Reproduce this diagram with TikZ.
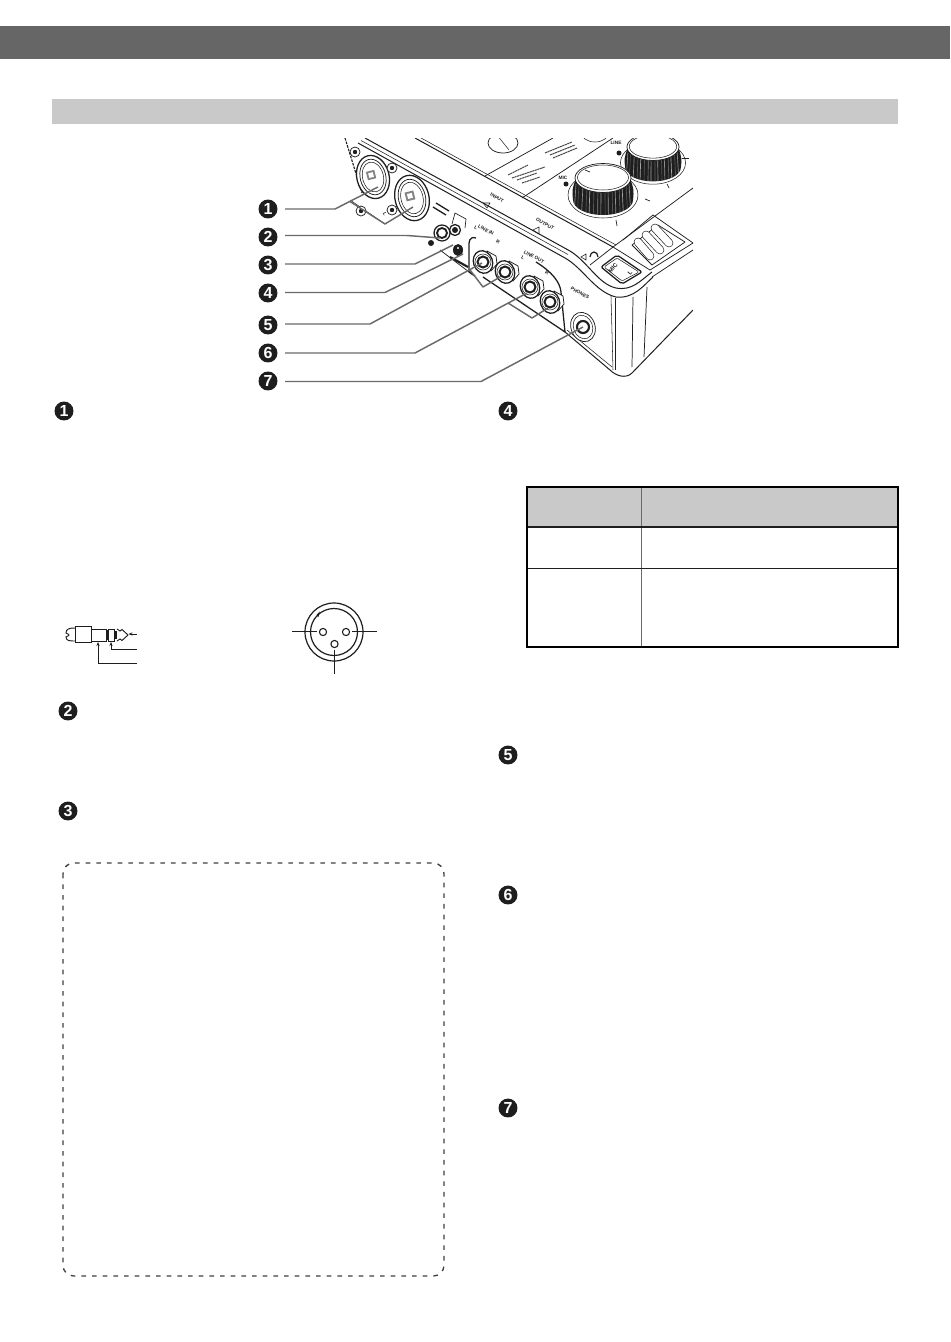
\documentclass[tikz,border=0pt]{standalone}
\usepackage{fontspec}
\setmainfont{Liberation Sans}
\usetikzlibrary{arrows.meta}
\definecolor{barDark}{HTML}{666666}
\definecolor{barLight}{HTML}{C9C9C9}
\definecolor{leaderGray}{HTML}{6A6A6A}
\definecolor{ink}{HTML}{1E1E1E}
\tikzset{
  x=0.75pt,y=-0.75pt,
  badge/.style={circle,fill=ink,text=white,inner sep=0pt,minimum size=14.2pt,font=\fontsize{12}{12}\selectfont\bfseries},
  leader/.style={draw=leaderGray,line width=1.1pt,line join=round},
  branch/.style={draw=leaderGray,line width=1.1pt,line join=round},
  devline/.style={draw=ink,line width=0.55pt,line join=round},
  heavy/.style={draw=ink,line width=0.95pt,line join=round},
  thin/.style={draw=ink,line width=0.4pt},
  plate/.style={draw=ink,line width=0.75pt},
  tinylabel/.style={inner sep=0pt,text=ink,font=\fontsize{3.6}{4}\selectfont\bfseries,rotate=-29},
  tableframe/.style={draw=black,line width=1.6pt},
  tablerule/.style={draw=ink,line width=0.7pt},
}
\newcommand{\rkknob}[3]{% cx, cy, scale
  \begin{scope}[shift={(#1,#2)},scale=#3]
    \draw[thin] (0,17) ellipse [x radius=35,y radius=23];
    \begin{scope}
      \clip (-27,0) .. controls (-31,12) .. (-30,22) arc[start angle=180,end angle=0,x radius=30,y radius=15] .. controls (31,12) .. (27,0) -- cycle;
      \fill[ink] (-34,-3) rectangle (34,40);
      \foreach \a/\o in {-27/.5,-24/.2,-20/.5,-16/.25,-13/.6,-9/.25,-5/.45,-2/.6,2/.3,5/.55,9/.25,12/.5,16/.3,19/.6,23/.25,26/.5}
        \draw[white,opacity=\o,line width=0.5pt] (\a,6) -- (\a*1.08,40);
    \end{scope}
    \draw[devline,fill=white] (0,0) ellipse [x radius=28,y radius=14.5];
    \draw[thin] (0,-0.5) ellipse [x radius=25.5,y radius=12.5];
  \end{scope}
}
\newcommand{\rkxlr}[3]{% cx, cy, scale
  \begin{scope}[shift={(#1,#2)},scale=#3,rotate=14]
    \draw[heavy,fill=white] (0,0) ellipse [x radius=17,y radius=23];
    \draw[devline] (0,0) ellipse [x radius=13.5,y radius=19];
    \draw[thin] (0,0) ellipse [x radius=11,y radius=16];
    \fill[ink!55] (-6,-7) rectangle (3,2);
    \fill[white] (-4,-5) rectangle (1,0);
  \end{scope}
}
\newcommand{\rkrca}[2]{% cx, cy
  \begin{scope}[shift={(#1,#2)}]
    \draw[devline,fill=white] (4,-11) -- (13,-6) -- (14,2) -- (8,9) -- cycle;
    \draw[heavy,fill=white,rotate=20] (0,0) ellipse [x radius=9.5,y radius=11.5];
    \draw[line width=1.5pt,draw=ink] (0,0) circle [radius=5.5];
    \fill[white] (0,0) circle [radius=3];
    \draw[thin] (0,0) circle [radius=8];
  \end{scope}
}
\begin{document}
\begin{tikzpicture}
\useasboundingbox (0,0) rectangle (950,1342);
\fill[white] (0,0) rectangle (950,1342);
% header bars
\fill[barDark] (0,26) rectangle (950,59);
\fill[barLight] (52,99) rectangle (898,124);

% ---------- device drawing ----------
\begin{scope}
\clip (340,138) rectangle (693,385);
% left side edge
\draw[ink,line width=0.8pt,dash pattern=on 2pt off 0.8pt] (345,138) -- (362,193);
% top panel lines
\draw[plate] (415,138) -- (613,247);
\draw[thin] (421,138) -- (616,245);
\draw[plate] (365,138) -- (570,251) .. controls (588,262) and (598,284) .. (616,288) .. controls (632,291) and (640,281) .. (652,272);
\draw[plate] (358,143) -- (565,258) .. controls (583,268) and (595,292) .. (616,297) .. controls (634,299) and (644,285) .. (653,277);
\draw[thin] (361,140.5) -- (568,254.5);
% panel dividers
\draw[devline] (485,176) -- (553,138);
\draw[devline] (522,198) -- (613,138);
\draw[devline] (590,265) -- (613,247) -- (693,188);
\draw[devline] (613,247) -- (650,270);
\draw[devline] (650,270) -- (693,243);
\draw[devline] (652,277) -- (693,250);
% selector oval
\draw[devline] (503,143) ellipse [x radius=15,y radius=10];
\draw[thin] (497,135) -- (509,150);
\draw[thin] (595,132) ellipse [x radius=14,y radius=10];
% printed lists (illegible marks)
\foreach \a/\b/\c/\d in {508/175/528/165, 512/178/545/167, 517/180/537/173, 522/183/540/177, 545/153/572/142, 550/155/575/145, 553/158/577/148}
  \draw[ink!80,line width=0.8pt,dash pattern=on 1.6pt off 0.4pt] (\a,\b) -- (\c,\d);
% knobs
\rkknob{653}{147}{0.93}
\rkknob{603}{178}{1}
% knob ticks and labels
\foreach \a/\b/\c/\d in {590/172/585/170,645/199/650/201,616/220/617/226,682/158/689/158,667/184/669/188}
  \draw[ink,line width=0.5pt] (\a,\b) -- (\c,\d);
\node[tinylabel,rotate=29] (micLabel) at (563,178) {MIC};
\node[tinylabel,rotate=29] (lineLabel) at (616,143) {LINE};
\fill[ink] (566,184) circle [radius=2.5];
\fill[ink] (619,153) circle [radius=2.5];
% grille
\draw[devline] (623,240) -- (653,215) -- (693,243);
\draw[devline] (632,245) -- (658,225) -- (685,242) -- (652,265) -- cycle;
\foreach \a/\b/\c/\d in {638/242/650/256,646/235/660/250,655/228/669/243}{
  \draw[ink,line width=6.4pt,line cap=round] (\a,\b) -- (\c,\d);
  \draw[white,line width=5.4pt,line cap=round] (\a,\b) -- (\c,\d);
}
% MIC L badge
\draw[heavy,rounded corners=1.5pt] (601,267) -- (617,255) -- (642,272) -- (622,284) -- cycle;
\draw[thin,rounded corners=1pt] (604,267) -- (617,258) -- (639,272) -- (622,281) -- cycle;
\node[inner sep=0pt,rotate=50,font=\fontsize{4.4}{5}\selectfont\bfseries,text=ink] (micBadge) at (613,268) {MIC};
\node[inner sep=0pt,rotate=50,font=\fontsize{4.4}{5}\selectfont\bfseries,text=ink] (lBadge) at (630,273) {L};
% front corner and bottom
\draw[devline] (615,298) -- (615,370);
\draw[devline] (633,297) -- (632,367);
\draw[devline] (647,287) -- (644,357);
\draw[thin] (611,296) -- (613,370);
\draw[plate] (565,332) -- (610,370) .. controls (616,376) and (626,379) .. (632,373) -- (693,310);
\draw[thin] (567,330) -- (612,367);
% recess of the jack panels
\draw[heavy] (476,238) .. controls (469,236) and (469,242) .. (469,246) -- (469,272) -- (475,276);
\draw[heavy] (483,277) -- (565,332);
\draw[heavy] (536,262) .. controls (552,272) and (560,282) .. (561,292) -- (565,332);
\draw[devline] (440,250) -- (473,275);
\draw[thin] (350,200) -- (385,224);
% xlr
\rkxlr{373}{177}{0.95}
\rkxlr{412}{198}{1}
\foreach \a/\b in {355/152,392/168,392/210,361/211}{
  \draw[devline,fill=white] (\a,\b) circle [radius=5];
  \fill[ink] (\a,\b) circle [radius=2.2];
}
\node[tinylabel,rotate=-35] (xlrMark) at (385,214) {L};
% tiny panel labels
\node[tinylabel] (inputLabel) at (497,198) {INPUT};
\draw[thin] (483,203) -- (490,203) -- (487,208) -- cycle;
\node[tinylabel] (outputLabel) at (545,224) {OUTPUT};
\draw[thin] (533,230) -- (539,227) -- (539,234) -- cycle;
\node[tinylabel] (lineInLabel) at (486,230) {LINE IN};
\node[tinylabel] (lineInL) at (476,228) {L};
\node[tinylabel] (lineInR) at (498,242) {R};
\node[tinylabel] (lineOutLabel) at (534,257) {LINE OUT};
\node[tinylabel] (lineOutL) at (523,258) {L};
\node[tinylabel] (lineOutR) at (547,273) {R};
\node[tinylabel] (phonesLabel) at (580,293) {PHONES};
\draw[ink,line width=0.9pt] (590,257) arc[start angle=180,end angle=360,x radius=4,y radius=5];
\draw[thin] (581,257) -- (586,254) -- (586,260) -- cycle;
\foreach \a/\b/\c/\d in {433/207/446/215, 436/203/449/211}
  \draw[ink,line width=1pt] (\a,\b) -- (\c,\d);
\draw[ink,line width=0.5pt] (452,224) -- (455,213) -- (466,219) -- (465,228);
\foreach \a/\b/\c/\d in {450/257/468/267}
  \draw[ink,line width=1.6pt] (\a,\b) -- (\c,\d);
% small jacks
\draw[heavy,fill=white] (442,233) circle [radius=8];
\draw[line width=1.4pt,draw=ink,fill=white] (442,233) circle [radius=5];
\fill[ink] (431,243) circle [radius=3];
\draw[heavy,fill=white] (455,230) circle [radius=5.5];
\fill[ink] (455,230) circle [radius=3];
\fill[ink] (458,250) ellipse [x radius=5,y radius=6];
\fill[white] (458,248) circle [radius=1.2];
% rca jacks
\rkrca{483}{262}
\rkrca{505}{272}
\rkrca{530}{287}
\rkrca{550}{302}
% phones jack
\draw[devline,fill=white,rotate around={20:(583,327)}] (583,327) ellipse [x radius=12,y radius=15];
\draw[thin,rotate around={20:(583,327)}] (583,327) ellipse [x radius=9.5,y radius=12];
\draw[line width=1.6pt,draw=ink,fill=white] (583,327) circle [radius=6];
\fill[white] (583,327) circle [radius=3];
\end{scope}

% ---------- leader badges ----------
\node[badge] (b1) at (268,209) {1};
\node[badge] (b2) at (268,237) {2};
\node[badge] (b3) at (268,265) {3};
\node[badge] (b4) at (268,293) {4};
\node[badge] (b5) at (268,325) {5};
\node[badge] (b6) at (268,353) {6};
\node[badge] (b7) at (268,381) {7};
\coordinate (s1) at (285,209); \coordinate (k1) at (335,209); \coordinate (t1) at (378,187);
\coordinate (s2) at (285,235.5); \coordinate (k2) at (407,235.5); \coordinate (t2) at (440,238);
\coordinate (s3) at (285,264); \coordinate (k3) at (415,264); \coordinate (t3) at (453,245);
\coordinate (s4) at (285,292.5); \coordinate (k4) at (385,292.5); \coordinate (t4) at (463,254);
\coordinate (s5) at (285,324); \coordinate (k5) at (370,324); \coordinate (t5) at (482,263);
\coordinate (s6) at (285,353); \coordinate (k6) at (415,353); \coordinate (t6) at (527,293);
\coordinate (s7) at (285,381.5); \coordinate (k7) at (481,381.5); \coordinate (t7) at (583,327);
\coordinate (m1a) at (350,201.5); \coordinate (m1b) at (385,224); \coordinate (m1c) at (413,207);
\coordinate (m5a) at (470,270); \coordinate (m5b) at (483,287); \coordinate (m5c) at (500,277);
\coordinate (m6a) at (508,303); \coordinate (m6b) at (532,318); \coordinate (m6c) at (548,308);
\draw[leader] (s1) -- (k1) -- (t1);
\draw[leader] (s2) -- (k2) -- (t2);
\draw[leader] (s3) -- (k3) -- (t3);
\draw[leader] (s4) -- (k4) -- (t4);
\draw[leader] (s5) -- (k5) -- (t5);
\draw[leader] (s6) -- (k6) -- (t6);
\draw[leader] (s7) -- (k7) -- (t7);
\draw[branch] (m1a) -- (m1b) -- (m1c);
\draw[branch] (m5a) -- (m5b) -- (m5c);
\draw[branch] (m6a) -- (m6b) -- (m6c);

% ---------- body badges ----------
\node[badge] (c1) at (64,411) {1};
\node[badge] (c4) at (508,411) {4};
\node[badge] (c2) at (68,711) {2};
\node[badge] (c3) at (68,811) {3};
\node[badge] (c5) at (508,755) {5};
\node[badge] (c6) at (508,895) {6};
\node[badge] (c7) at (508,1108) {7};

% ---------- table ----------
\fill[barLight] (527,487) rectangle (898,527);
\draw[tablerule,draw=leaderGray] (641,487) -- (641,647);
\draw[tablerule,line width=1.1pt] (527,527) -- (898,527);
\draw[tablerule] (527,568) -- (898,568);
\draw[tableframe] (527,487) rectangle (898,647);

% ---------- plug ----------
\draw[ink,line width=0.7pt] (75,626) rectangle (91,642);
\draw[ink,line width=0.7pt] (75,628) .. controls (69,628) and (66,629) .. (66,633) .. controls (70,635) .. (66,637) .. controls (66,641) and (70,641) .. (75,641);
\draw[ink,line width=0.7pt] (91,629) rectangle (106,641);
\fill[ink] (106,630) rectangle (108.5,640);
\draw[ink,line width=0.7pt] (108.5,629) rectangle (114,641);
\fill[ink] (114,631) rectangle (117,639);
\draw[ink,line width=0.7pt] (117,629) -- (120,631) -- (122,629.5) -- (128,635) -- (122,640.5) -- (120,639) -- (117,641);
\coordinate (tipArrowFrom) at (137,634); \coordinate (tipArrowTo) at (128.5,634);
\draw[ink,line width=0.6pt,-{Stealth[length=3pt,width=2.4pt]}] (tipArrowFrom) -- (tipArrowTo);
\coordinate (ringEnd) at (137,649); \coordinate (ringBend) at (111,649); \coordinate (ringTo) at (111,642);
\draw[ink,line width=0.6pt,-{Stealth[length=3pt,width=2.4pt]}] (ringEnd) -- (ringBend) -- (ringTo);
\coordinate (sleeveEnd) at (137,663); \coordinate (sleeveBend) at (98,663); \coordinate (sleeveTo) at (98,642);
\draw[ink,line width=0.6pt,-{Stealth[length=3pt,width=2.4pt]}] (sleeveEnd) -- (sleeveBend) -- (sleeveTo);

% ---------- xlr pictogram ----------
\draw[ink,line width=0.9pt] (334,632) circle [radius=29];
\draw[ink,line width=0.9pt] (334,632) circle [radius=23.5];
\draw[ink,line width=0.7pt] (317,615) -- (319,613) -- (318,617);
\draw[ink,line width=0.8pt] (323,632) circle [radius=3.6];
\draw[ink,line width=0.8pt] (346,632) circle [radius=3.6];
\draw[ink,line width=0.8pt] (334.5,644) circle [radius=3.6];
\coordinate (pinLa) at (292,631); \coordinate (pinLb) at (317,631);
\coordinate (pinRa) at (352,631); \coordinate (pinRb) at (377,631);
\coordinate (pinBa) at (334.5,650); \coordinate (pinBb) at (334.5,674);
\draw[ink,line width=0.7pt] (pinLa) -- (pinLb);
\draw[ink,line width=0.7pt] (pinRa) -- (pinRb);
\draw[ink,line width=0.7pt] (pinBa) -- (pinBb);

% ---------- dashed box ----------
\draw[draw=ink!85,line width=1pt,dash pattern=on 3.5pt off 4.5pt,rounded corners=8pt] (63,863) rectangle (444,1276);
\end{tikzpicture}
\end{document}
